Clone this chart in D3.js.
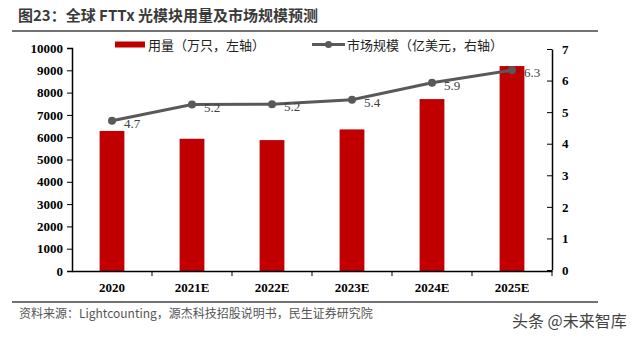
<!DOCTYPE html>
<html><head><meta charset="utf-8">
<script src="https://cdn.jsdelivr.net/npm/d3@7"></script>
<style>body{margin:0;background:#fff}svg{display:block}</style>
</head><body>
<svg id="c" width="640" height="339"></svg>
<script>
const categories = ["2020","2021E","2022E","2023E","2024E","2025E"];
const volume = [6280, 5930, 5870, 6350, 7710, 9190];
const market = [4.73, 5.24, 5.25, 5.39, 5.93, 6.33];
const marketLabels = ["4.7","5.2","5.2","5.4","5.9","6.3"];
const leftTicks = [0,1000,2000,3000,4000,5000,6000,7000,8000,9000,10000];
const rightTicks = [0,1,2,3,4,5,6,7];

const svg = d3.select("#c");
const L = 72, R = 552, T = 48, B = 271;
const serif = "'Liberation Serif','Times New Roman',serif";
const sans = "'Noto Sans CJK SC','Noto Sans',sans-serif";

// title
svg.append("text").attr("x",18).attr("y",21).text("图23：全球 FTTx 光模块用量及市场规模预测")
  .attr("font-family",sans).attr("font-weight","bold").attr("font-size",15).attr("fill","#3a3a3a");
svg.append("line").attr("x1",12).attr("x2",598).attr("y1",31).attr("y2",31).attr("stroke","#444").attr("stroke-width",1.5);

const x = d3.scaleBand().domain(categories).range([L,R]).paddingInner(0.69).paddingOuter(0.345);
const xb = d3.scaleBand().domain(categories).range([L,R]);
const yL = d3.scaleLinear().domain([0,10000]).range([B,T]);
const yR = d3.scaleLinear().domain([0,7]).range([B-1,T+1]);

// bars
svg.append("g").selectAll("rect").data(volume).join("rect")
  .attr("x",(d,i)=>x(categories[i])).attr("width",x.bandwidth())
  .attr("y",d=>yL(d)).attr("height",d=>B-yL(d)).attr("fill","#c00000");

// left axis
const gl = svg.append("g").attr("transform",`translate(${L},0)`)
  .call(d3.axisLeft(yL).tickValues(leftTicks).tickSize(5).tickPadding(4).tickFormat(d3.format("d")));
gl.selectAll("text").attr("font-family",serif).attr("font-weight","bold").attr("font-size",13).attr("fill","#000");
gl.select(".domain").attr("stroke","#000").attr("stroke-width",1.5);
gl.selectAll(".tick line").attr("stroke","#000");

// right axis
const gr = svg.append("g").attr("transform",`translate(${R},0)`)
  .call(d3.axisRight(yR).tickValues(rightTicks).tickSizeInner(-5).tickSizeOuter(0).tickPadding(10).tickFormat(d3.format("d")));
gr.selectAll("text").attr("font-family",serif).attr("font-weight","bold").attr("font-size",13).attr("fill","#000");
gr.select(".domain").attr("stroke","#000").attr("stroke-width",1.5);
gr.selectAll(".tick line").attr("stroke","#000");

// x axis
const gx = svg.append("g").attr("transform",`translate(0,${B})`)
  .call(d3.axisBottom(xb).tickSize(0).tickPadding(12));
gx.selectAll("text").attr("font-family",serif).attr("font-weight","bold").attr("font-size",13).attr("fill","#000");
gx.select(".domain").attr("stroke","#000").attr("stroke-width",1.5);
gx.append("g").selectAll("line").data(categories.slice(1).concat(["end"])).join("line")
  .attr("x1",(d,i)=>L+xb.step()*(i+1)).attr("x2",(d,i)=>L+xb.step()*(i+1))
  .attr("y1",0).attr("y2",5).attr("stroke","#000");

// line
const line = d3.line().x((d,i)=>xb(categories[i])+xb.bandwidth()/2).y(d=>yR(d));
svg.append("path").datum(market).attr("d",line).attr("fill","none").attr("stroke","#595959").attr("stroke-width",3);
svg.append("g").selectAll("circle").data(market).join("circle")
  .attr("cx",(d,i)=>xb(categories[i])+xb.bandwidth()/2).attr("cy",d=>yR(d)).attr("r",4).attr("fill","#595959");
svg.append("g").selectAll("text").data(market).join("text")
  .attr("x",(d,i)=>xb(categories[i])+xb.bandwidth()/2+12).attr("y",d=>yR(d)+7)
  .text((d,i)=>marketLabels[i]).attr("font-family",serif).attr("font-size",13).attr("fill","#404040");

// legend
svg.append("rect").attr("x",115).attr("y",41.5).attr("width",30).attr("height",6).attr("fill","#c00000");
svg.append("text").attr("x",148).attr("y",49.5).text("用量（万只，左轴）").attr("font-family",sans).attr("font-size",13).attr("fill","#222");
svg.append("line").attr("x1",312).attr("x2",345).attr("y1",44.5).attr("y2",44.5).attr("stroke","#595959").attr("stroke-width",3);
svg.append("circle").attr("cx",328.5).attr("cy",44.5).attr("r",3.5).attr("fill","#595959");
svg.append("text").attr("x",347).attr("y",49.5).text("市场规模（亿美元，右轴）").attr("font-family",sans).attr("font-size",13).attr("fill","#222");

// footer
svg.append("line").attr("x1",12).attr("x2",598).attr("y1",302).attr("y2",302).attr("stroke","#444").attr("stroke-width",1.5);
svg.append("text").attr("x",19).attr("y",318).text("资料来源：Lightcounting，源杰科技招股说明书，民生证券研究院")
  .attr("font-family",sans).attr("font-size",12).attr("fill","#555");
svg.append("text").attr("x",512).attr("y",327).text("头条 @未来智库")
  .attr("font-family",sans).attr("font-size",16).attr("fill","#444");
</script>
</body></html>
